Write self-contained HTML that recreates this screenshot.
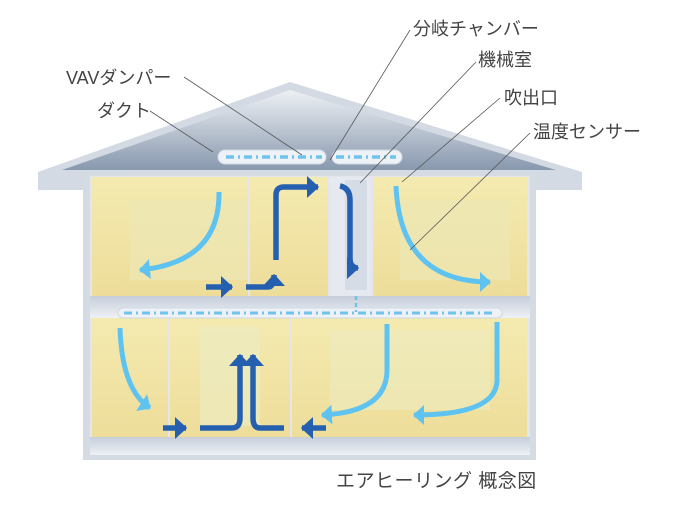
<!DOCTYPE html>
<html><head><meta charset="utf-8"><style>
html,body{margin:0;padding:0;background:#fff;}
svg{display:block}
text{font-family:"Liberation Sans","Noto Sans CJK JP",sans-serif;fill:#444;font-size:18px}
</style></head><body>
<svg width="686" height="508" viewBox="0 0 686 508" xmlns="http://www.w3.org/2000/svg">
<defs>
<linearGradient id="roof" x1="0" y1="0" x2="0" y2="1">
<stop offset="0" stop-color="#eef1f5"/><stop offset="1" stop-color="#8898ae"/></linearGradient>
<linearGradient id="room" x1="0" y1="0" x2="0" y2="1">
<stop offset="0" stop-color="#f4eab0"/><stop offset="1" stop-color="#eedd9a"/></linearGradient>
<linearGradient id="slab" x1="0" y1="0" x2="0" y2="1">
<stop offset="0" stop-color="#c6ceda"/><stop offset="1" stop-color="#eef1f5"/></linearGradient>
<marker id="la" markerWidth="4" markerHeight="4" refX="2" refY="2" orient="auto" markerUnits="strokeWidth"><path d="M0,0 L2.2,2 L0,4z" fill="#5ec3f0"/></marker>
<marker id="da" markerWidth="4" markerHeight="4" refX="2" refY="2" orient="auto" markerUnits="strokeWidth"><path d="M0,0 L2.2,2 L0,4z" fill="#2560b0"/></marker>
</defs>
<polygon points="38,172 290,82 582,172 582,190 38,190" fill="#d3dae3"/>
<polygon points="62,170 290,90 556,170" fill="url(#roof)"/>
<rect x="83" y="170" width="453" height="290" fill="#d5dbe3"/>
<rect x="90" y="176" width="440" height="262" fill="#e3e7ed"/>
<rect x="92" y="177" width="156" height="119" fill="url(#room)"/>
<rect x="130" y="200" width="118" height="80" fill="#ece8b8" opacity="0.6"/>
<rect x="250" y="177" width="78" height="119" fill="url(#room)"/>
<rect x="330" y="177" width="40" height="119" fill="#e6eaf0"/>
<rect x="345" y="180" width="22" height="110" fill="#d6dce5"/>
<rect x="373" y="177" width="154" height="119" fill="url(#room)"/>
<rect x="400" y="200" width="110" height="80" fill="#ece8b8" opacity="0.6"/>
<rect x="90" y="296" width="440" height="22" fill="url(#slab)"/>
<rect x="92" y="318" width="76" height="119" fill="url(#room)"/>
<rect x="170" y="318" width="120" height="119" fill="url(#room)"/>
<rect x="200" y="326" width="60" height="100" fill="#ecebc0" opacity="0.7"/>
<rect x="292" y="318" width="235" height="119" fill="url(#room)"/>
<rect x="330" y="330" width="160" height="80" fill="#ecebc0" opacity="0.6"/>
<rect x="90" y="437" width="440" height="18" fill="url(#slab)"/>
<rect x="218" y="150" width="108" height="14" rx="7" fill="#eef2f7" stroke="#cfd8e3"/>
<rect x="332" y="150" width="70" height="14" rx="7" fill="#eef2f7" stroke="#cfd8e3"/>
<line x1="226" y1="157" x2="322" y2="157" stroke="#6fc3ec" stroke-width="3.5" stroke-dasharray="8,4,2,4"/>
<line x1="336" y1="157" x2="396" y2="157" stroke="#6fc3ec" stroke-width="3.5" stroke-dasharray="8,4,2,4"/>
<rect x="118" y="308" width="384" height="10" rx="5" fill="#eef2f7" stroke="#cfd8e3"/>
<line x1="124" y1="313" x2="496" y2="313" stroke="#6fc3ec" stroke-width="3" stroke-dasharray="8,4,2,4"/>
<line x1="356" y1="296" x2="356" y2="312" stroke="#6fc3ec" stroke-width="2.5" stroke-dasharray="4,3"/>
<g fill="none" stroke="#5ec3f0" stroke-width="5">
<path d="M219,192 Q220,262 140,270" marker-end="url(#la)"/>
<path d="M396,186 Q400,282 490,282" marker-end="url(#la)"/>
<path d="M120,328 Q122,390 150,408" marker-end="url(#la)"/>
<path d="M387,324 L387,370 Q387,412 322,415" marker-end="url(#la)"/>
<path d="M497,322 L497,380 Q497,415 414,415" marker-end="url(#la)"/>
</g>
<g fill="none" stroke="#2560b0" stroke-width="5.5">
<path d="M206,287 L232,287" marker-end="url(#da)"/>
<path d="M246,287 L268,287 Q274,287 274,275" marker-end="url(#da)"/>
<path d="M276,260 L276,195 Q276,187 284,187 L318,187" marker-end="url(#da)"/>
<path d="M340,186 Q350,188 350,200 L350,258 Q350,268 358,268" marker-end="url(#da)"/>
<path d="M163,428 L186,428" marker-end="url(#da)"/>
<path d="M200,428 L232,428 Q240,428 240,418 L240,355" marker-end="url(#da)"/>
<path d="M284,428 L260,428 Q253,428 253,418 L253,355" marker-end="url(#da)"/>
<path d="M326,428 L302,428" marker-end="url(#da)"/>
</g>
<g stroke="#555" stroke-width="0.8">
<line x1="184" y1="77" x2="302" y2="155"/>
<line x1="150" y1="111" x2="213" y2="152"/>
<line x1="410" y1="30" x2="330" y2="160"/>
<line x1="476" y1="62" x2="360" y2="183"/>
<line x1="500" y1="98" x2="402" y2="182"/>
<line x1="530" y1="133" x2="410" y2="250"/>
</g>
<text x="413" y="35">分岐チャンバー</text>
<text x="478" y="66">機械室</text>
<text x="66" y="84">VAVダンパー</text>
<text x="504" y="104">吹出口</text>
<text x="97" y="117">ダクト</text>
<text x="533" y="138">温度センサー</text>
<text x="336" y="487" style="font-size:19px;letter-spacing:0.5px">エアヒーリング 概念図</text>
</svg>
</body></html>
